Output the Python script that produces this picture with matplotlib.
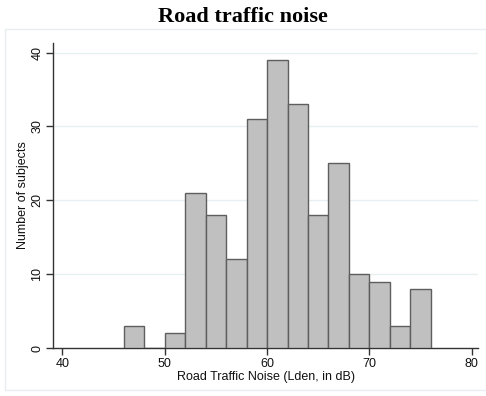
import matplotlib
matplotlib.use("Agg")
import matplotlib.pyplot as plt
import numpy as np
from matplotlib.patches import Rectangle

plt.rcParams['font.family'] = ['Liberation Sans', 'DejaVu Sans']

bin_edges = [46, 48, 50, 52, 54, 56, 58, 60, 62, 64, 66, 68, 70, 72, 74, 76]
counts = [3, 0, 2, 21, 18, 12, 31, 39, 33, 18, 25, 10, 9, 3, 8]
x_ticks = [40, 50, 60, 70, 80]
y_ticks = [0, 10, 20, 30, 40]

fig = plt.figure(figsize=(4.86, 3.96), dpi=100)
fig.patch.set_facecolor("white")
fig.patches.append(Rectangle((5/486, 1-390/396), 481/486, (390-29)/396,
                             transform=fig.transFigure, fill=False,
                             edgecolor="#e8eef0", linewidth=1))
ax = fig.add_axes([53/486, 1-348/396, (478-53)/486, (348-43)/396])

lefts = bin_edges[:-1]
widths = np.diff(bin_edges)
ax.bar(lefts, counts, width=widths, align="edge", color="#c0c0c0",
       edgecolor="#5e5e5e", linewidth=1.0, zorder=3)

ax.set_xlim(39.1, 80.6)
ax.set_ylim(0, 41.3)
ax.set_xticks(x_ticks)
ax.set_yticks(y_ticks)
for y in y_ticks[1:]:
    ax.axhline(y, color="#e6f0f2", linewidth=1, zorder=1)

for s in ["top", "right"]:
    ax.spines[s].set_visible(False)
for s in ["left", "bottom"]:
    ax.spines[s].set_color("#333333")
    ax.spines[s].set_linewidth(1)
ax.tick_params(direction="out", length=5, width=1, color="#333333",
               labelsize=9, labelcolor="#111111", pad=2)
for lbl in ax.get_yticklabels():
    lbl.set_rotation(90)
    lbl.set_va("center")

ax.set_xlabel("Road Traffic Noise (Lden, in dB)", fontsize=9, labelpad=1, color="#111111")
ax.set_ylabel("Number of subjects", fontsize=9, labelpad=2, color="#111111")

fig.text(0.5, 1-17/396, "Road traffic noise", ha="center", va="center",
         fontsize=16, fontweight="bold", family="Liberation Serif")

fig.savefig("out.png", dpi=100)
